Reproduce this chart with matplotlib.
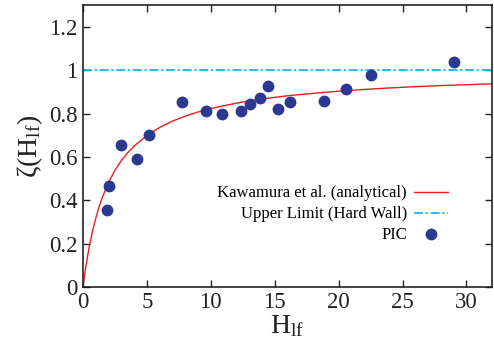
import matplotlib
matplotlib.use("Agg")
import matplotlib.pyplot as plt

plt.rcParams['font.family'] = ['Liberation Serif', 'DejaVu Serif']
plt.rcParams['mathtext.fontset'] = 'custom'
plt.rcParams['mathtext.rm'] = 'Liberation Serif'
plt.rcParams['mathtext.it'] = 'Liberation Serif'

# PIC simulation points
h_pic = [1.84, 2.05, 2.95, 4.2, 5.13, 7.74, 9.63, 10.9, 12.33, 13.03,
         13.88, 14.48, 15.25, 16.2, 18.86, 20.6, 22.56, 29.0]
zeta_pic = [0.355, 0.467, 0.654, 0.588, 0.70, 0.854, 0.81, 0.80, 0.812, 0.845,
            0.871, 0.929, 0.82, 0.851, 0.859, 0.911, 0.978, 1.038]

# analytical curve (Kawamura et al.)
h_an = [0, 0.1, 0.25, 0.5, 0.75, 1, 1.25, 1.5, 2, 2.5, 3, 3.5, 4, 5, 6, 7, 8, 9, 10,
        12, 14, 16, 18, 20, 22, 24, 26, 28, 30, 32]
zeta_an = [0, 0.044, 0.104, 0.189, 0.259, 0.317, 0.368, 0.411, 0.482, 0.538,
           0.583, 0.619, 0.650, 0.699, 0.736, 0.765, 0.788, 0.807, 0.823,
           0.848, 0.867, 0.882, 0.893, 0.903, 0.911, 0.918, 0.924, 0.929,
           0.933, 0.937]

upper = 1.0

fig = plt.figure(figsize=(4.94, 3.44), dpi=100)
ax = fig.add_axes([0.168, 0.166, 0.828, 0.819])

ax.plot(h_an, zeta_an, color='#ee1c1c', lw=1.0, label='Kawamura et al. (analytical)')
ax.axhline(upper, color='#1eb4e6', lw=1.3, dashes=(5, 1.5, 1.2, 1.5),
           label='Upper Limit (Hard Wall)')
ax.plot(h_pic, zeta_pic, 'o', color='#2b3990', ms=7.5, label='PIC', zorder=3)

ax.set_xlim(0, 32)
ax.set_ylim(0, 1.3)
ax.set_xticks([0, 5, 10, 15, 20, 25, 30])
ax.set_yticks([0, 0.2, 0.4, 0.6, 0.8, 1.0, 1.2])
ax.set_yticklabels(['0', '0.2', '0.4', '0.6', '0.8', '1', '1.2'])
ax.tick_params(direction='in', top=True, right=True, labelsize=16.5,
               length=5, width=1, colors='#222222', pad=4)
for sp in ax.spines.values():
    sp.set_linewidth(1.2)
    sp.set_color('#222222')

ax.set_xlabel(r'H$_{\mathrm{lf}}$', fontsize=20, color='#222222', labelpad=0)
ax.set_ylabel(r'$\zeta$(H$_{\mathrm{lf}}$)', fontsize=20, color='#222222', labelpad=3)

leg = ax.legend(loc='upper right', bbox_to_anchor=(0.912, 0.39), frameon=False,
                markerfirst=False, fontsize=12, handlelength=2.0,
                handletextpad=0.45, labelspacing=0.3, borderpad=0)
for t in leg.get_texts():
    t.set_ha('right')

fig.savefig('out.png', dpi=100)
